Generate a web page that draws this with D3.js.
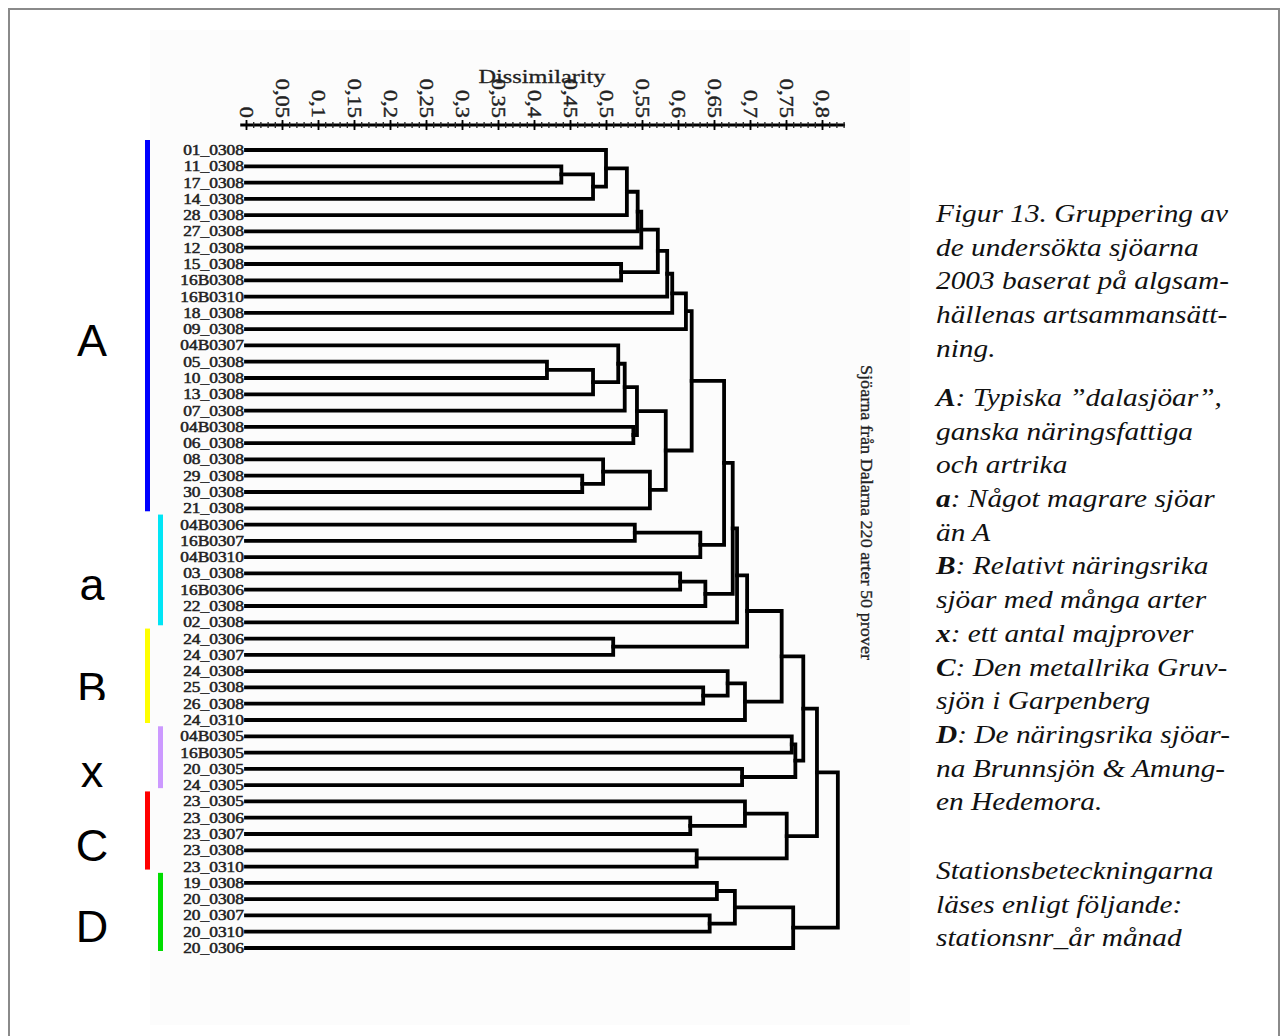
<!DOCTYPE html>
<html>
<head>
<meta charset="utf-8">
<script src="https://cdn.jsdelivr.net/npm/d3@7"></script>
<style>
  body { margin: 0; background: #fff; }
  svg { display: block; }
</style>
</head>
<body>
<svg id="chart" width="1282" height="1036"></svg>
<script>
// leaf order, top to bottom
const leaves = [
  "01_0308", "11_0308", "17_0308", "14_0308", "28_0308", "27_0308", "12_0308", "15_0308",
  "16B0308", "16B0310", "18_0308", "09_0308", "04B0307", "05_0308", "10_0308", "13_0308",
  "07_0308", "04B0308", "06_0308", "08_0308", "29_0308", "30_0308", "21_0308", "04B0306",
  "16B0307", "04B0310", "03_0308", "16B0306", "22_0308", "02_0308", "24_0306", "24_0307",
  "24_0308", "25_0308", "26_0308", "24_0310", "04B0305", "16B0305", "20_0305", "24_0305",
  "23_0305", "23_0306", "23_0307", "23_0308", "23_0310", "19_0308", "20_0308", "20_0307",
  "20_0310", "20_0306"
];

// merges: [upper child, lower child, dissimilarity]; numbers point to earlier merges
const merges = [
  ["11_0308", "17_0308", 0.438],
  [0, "14_0308", 0.482],
  ["01_0308", 1, 0.500],
  [2, "28_0308", 0.529],
  [3, "27_0308", 0.544],
  [4, "12_0308", 0.549],
  ["15_0308", "16B0308", 0.521],
  [5, 6, 0.572],
  [7, "16B0310", 0.585],
  [8, "18_0308", 0.592],
  [9, "09_0308", 0.611],
  ["05_0308", "10_0308", 0.418],
  [11, "13_0308", 0.482],
  ["04B0307", 12, 0.517],
  [13, "07_0308", 0.526],
  ["04B0308", "06_0308", 0.538],
  [14, 15, 0.543],
  ["29_0308", "30_0308", 0.467],
  ["08_0308", 17, 0.496],
  [18, "21_0308", 0.561],
  [16, 19, 0.583],
  [10, 20, 0.619],
  ["04B0306", "16B0307", 0.540],
  [22, "04B0310", 0.631],
  [21, 23, 0.664],
  ["03_0308", "16B0306", 0.603],
  [25, "22_0308", 0.638],
  [24, 26, 0.676],
  [27, "02_0308", 0.682],
  ["24_0306", "24_0307", 0.510],
  [28, 29, 0.696],
  ["25_0308", "26_0308", 0.635],
  ["24_0308", 31, 0.669],
  [32, "24_0310", 0.693],
  [30, 33, 0.744],
  ["04B0305", "16B0305", 0.758],
  ["20_0305", "24_0305", 0.689],
  [35, 36, 0.763],
  [34, 37, 0.774],
  ["23_0306", "23_0307", 0.617],
  ["23_0305", 39, 0.693],
  ["23_0308", "23_0310", 0.626],
  [40, 41, 0.751],
  [38, 42, 0.793],
  ["19_0308", "20_0308", 0.654],
  ["20_0307", "20_0310", 0.644],
  [44, 45, 0.679],
  [46, "20_0306", 0.760],
  [43, 47, 0.822]
];

const majorTicks = [0, 0.05, 0.1, 0.15, 0.2, 0.25, 0.3, 0.35, 0.4, 0.45, 0.5, 0.55, 0.6, 0.65, 0.7, 0.75, 0.8];
const tickLabels = ["0", "0,05", "0,1", "0,15", "0,2", "0,25", "0,3", "0,35", "0,4", "0,45", "0,5", "0,55", "0,6", "0,65", "0,7", "0,75", "0,8"];
const minorTicks = d3.range(0, 84).map(i => i / 100);

// groups marked on the left
const groupNames = ["A", "a", "B", "x", "C", "D"];
const groupColors = ["#0000ff", "#00e5f5", "#ffff00", "#cc99ff", "#ff0000", "#00dd00"];
const groupFirst = ["01_0308", "04B0306", "24_0306", "04B0305", "23_0305", "19_0308"];
const groupLast = ["21_0308", "02_0308", "24_0310", "24_0305", "23_0310", "20_0306"];

const axisTitle = "Dissimilarity";
const sideTitle = "Sjöarna från Dalarna 220 arter 50 prover";

// caption paragraphs: [bold part, rest]
const caption = [
  [["", "Figur 13. Gruppering av"], ["", "de undersökta sjöarna"], ["", "2003 baserat på algsam-"],
   ["", "hällenas artsammansätt-"], ["", "ning."]],
  [["A", ": Typiska ”dalasjöar”,"], ["", "ganska näringsfattiga"], ["", "och artrika"],
   ["a", ": Något magrare sjöar"], ["", "än A"], ["B", ": Relativt näringsrika"],
   ["", "sjöar med många arter"], ["x", ": ett antal majprover"], ["C", ": Den metallrika Gruv-"],
   ["", "sjön i Garpenberg"], ["D", ": De näringsrika sjöar-"], ["", "na Brunnsjön & Amung-"],
   ["", "en Hedemora."]],
  [["", "Stationsbeteckningarna"], ["", "läses enligt följande:"], ["", "stationsnr_år månad"]]
];

const svg = d3.select("#chart");
const serif = "'Liberation Serif', 'Times New Roman', serif";

// frame
svg.append("rect")
  .attr("x", 9).attr("y", 9).attr("width", 1270).attr("height", 1040)
  .attr("fill", "#fff").attr("stroke", "#8a8a8a").attr("stroke-width", 2);

// faint picture background
svg.append("rect")
  .attr("x", 150).attr("y", 30).attr("width", 760).attr("height", 995)
  .attr("fill", "#fcfcfc");

const x = d3.scaleLinear().domain([0, 0.8]).range([246, 822]);
const y = d3.scalePoint().domain(leaves).range([150, 948]);

// axis
const axisY = 125;
svg.append("line")
  .attr("x1", x(-0.008)).attr("x2", x(0.832))
  .attr("y1", axisY).attr("y2", axisY)
  .attr("stroke", "#000").attr("stroke-width", 3);

const minorAxis = svg.append("g")
  .attr("transform", `translate(0,${axisY})`)
  .call(d3.axisTop(x).tickValues(minorTicks).tickSize(3).tickFormat(""));
minorAxis.select(".domain").remove();
minorAxis.selectAll(".tick line").attr("y1", 3).attr("stroke", "#222").attr("stroke-width", 1.3);

const majorAxis = svg.append("g")
  .attr("transform", `translate(0,${axisY})`)
  .call(d3.axisTop(x).tickValues(majorTicks).tickSize(5)
    .tickFormat((d, i) => tickLabels[i]));
majorAxis.select(".domain").remove();
majorAxis.selectAll(".tick line").attr("y1", 5).attr("stroke", "#000").attr("stroke-width", 1.8);
majorAxis.selectAll(".tick text")
  .attr("transform", "rotate(90) scale(1.18,1)")
  .attr("x", -6).attr("y", 0).attr("dy", "0.35em")
  .attr("text-anchor", "end")
  .attr("font-family", serif).attr("font-size", 19)
  .attr("fill", "#222").attr("stroke", "#222").attr("stroke-width", 0.4);

svg.append("text")
  .attr("x", 542).attr("y", 83)
  .attr("text-anchor", "middle")
  .attr("font-family", serif).attr("font-size", 19)
  .attr("fill", "#222").attr("stroke", "#222").attr("stroke-width", 0.3)
  .attr("textLength", 127).attr("lengthAdjust", "spacingAndGlyphs")
  .text(axisTitle);

// leaf labels
svg.append("g").selectAll("text")
  .data(leaves)
  .join("text")
  .attr("transform", d => `translate(244,${y(d) + 5}) scale(1.2,1)`)
  .attr("text-anchor", "end")
  .attr("font-family", serif).attr("font-size", 14.5)
  .attr("fill", "#222").attr("stroke", "#222").attr("stroke-width", 0.5)
  .text(d => d);

// dendrogram
const nodes = [];
function pos(ref) {
  return typeof ref === "string" ? { h: 0, y: y(ref) } : nodes[ref];
}
merges.forEach(m => {
  const a = pos(m[0]), b = pos(m[1]);
  nodes.push({ h: m[2], y: (a.y + b.y) / 2, a, b });
});

svg.append("g").selectAll("path")
  .data(nodes)
  .join("path")
  .attr("d", n => `M${x(n.a.h)},${n.a.y}H${x(n.h)}V${n.b.y}H${x(n.b.h)}`)
  .attr("fill", "none")
  .attr("stroke", "#000").attr("stroke-width", 3.8)
  .attr("stroke-linecap", "square");

// side title
svg.append("text")
  .attr("transform", `translate(861,${(365 + 660) / 2}) rotate(90)`)
  .attr("text-anchor", "middle")
  .attr("font-family", serif).attr("font-size", 16)
  .attr("fill", "#222").attr("stroke", "#222").attr("stroke-width", 0.3)
  .attr("textLength", 295).attr("lengthAdjust", "spacingAndGlyphs")
  .text(sideTitle);

// group bars and letters (the B is cut off at its bottom in the original)
svg.append("clipPath").attr("id", "cutB")
  .append("rect").attr("x", 0).attr("y", 0).attr("width", 140).attr("height", 700);

const groups = svg.append("g");
groupNames.forEach((g, i) => {
  const y0 = y(groupFirst[i]) - 10, y1 = y(groupLast[i]) + 3;
  const bx = i % 2 ? 160 : 147;
  const isB = g === "B";
  groups.append("rect")
    .attr("x", bx - 2).attr("y", y0).attr("width", 5).attr("height", y1 - y0)
    .attr("fill", groupColors[i]);
  groups.append("text")
    .attr("x", 92).attr("y", (y0 + y1) / 2 + (isB ? 28 : 30))
    .attr("text-anchor", "middle")
    .attr("font-family", "'Liberation Sans', Arial, sans-serif")
    .attr("font-size", 45).attr("fill", "#000")
    .attr("clip-path", isB ? "url(#cutB)" : null)
    .text(g);
});

// caption
const paraTop = [222, 406, 879];
const lineH = 33.7;
const cap = svg.append("g")
  .attr("transform", "translate(936,0) scale(1.13,1)")
  .attr("font-family", serif).attr("font-size", 26).attr("font-style", "italic").attr("fill", "#111");
caption.forEach((para, p) => {
  para.forEach((ln, j) => {
    const t = cap.append("text").attr("x", 0).attr("y", paraTop[p] + j * lineH);
    if (ln[0]) t.append("tspan").attr("font-weight", "bold").text(ln[0]);
    t.append("tspan").text(ln[1]);
  });
});
</script>
</body>
</html>
